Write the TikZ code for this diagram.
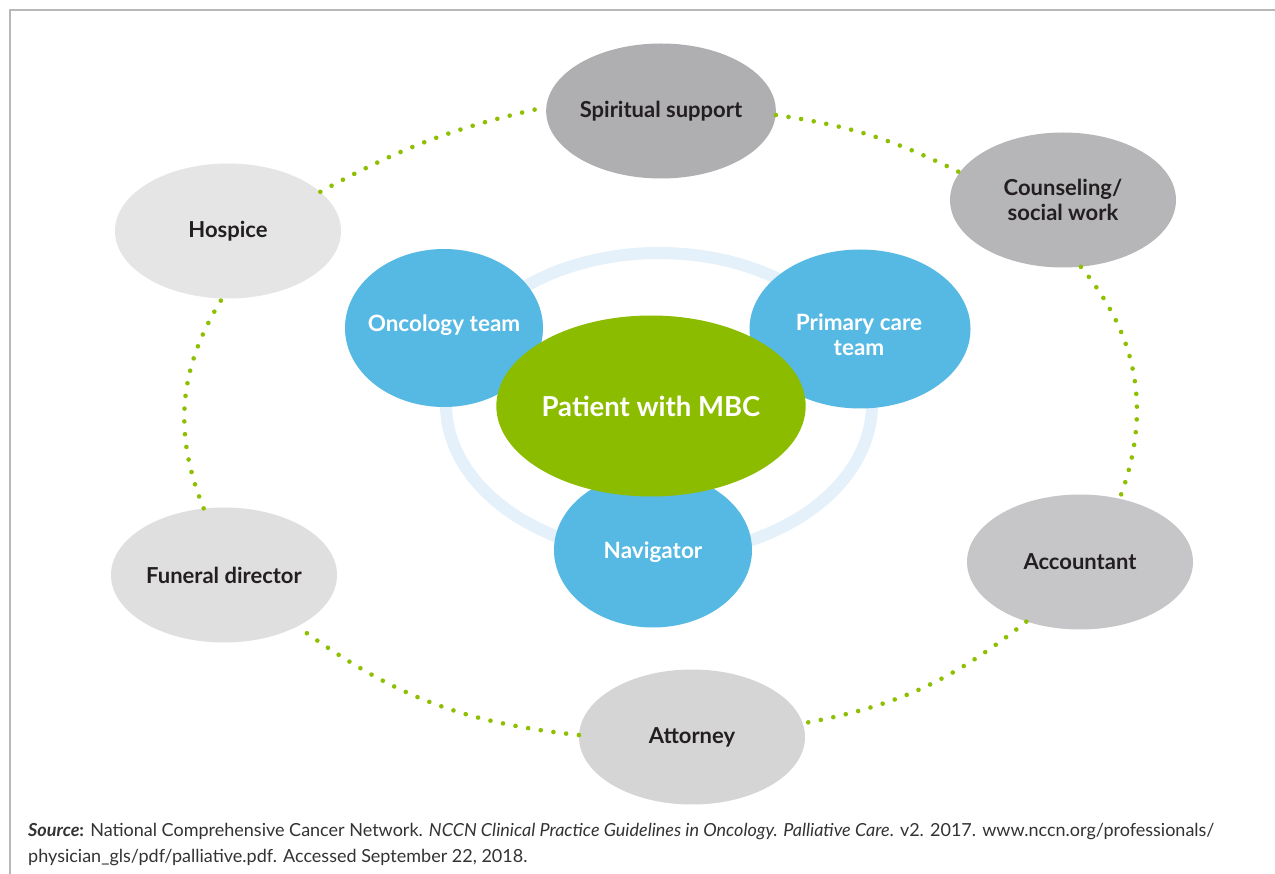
\documentclass[tikz,border=0pt]{standalone}
\usepackage{fontspec}
\setmainfont{Lato}
\newfontfamily\footfont{Lato}
\usetikzlibrary{shapes.geometric}
\definecolor{framec}{HTML}{B8B8B8}
\definecolor{bluec}{HTML}{56B9E3}
\definecolor{greenc}{HTML}{8CBC00}
\definecolor{ringc}{HTML}{E4F1FA}
\definecolor{dotc}{HTML}{8CC000}
\definecolor{txtc}{HTML}{231F20}
\definecolor{footc}{HTML}{333333}
\definecolor{g1}{HTML}{AFAEB1}
\definecolor{g2}{HTML}{B6B6B8}
\definecolor{g3}{HTML}{C6C6C8}
\definecolor{g4}{HTML}{D5D5D6}
\definecolor{g5}{HTML}{E0DFE0}
\definecolor{g6}{HTML}{E6E5E6}
\tikzset{
  outerbox/.style={ellipse, inner sep=0pt, minimum width=226pt, minimum height=135pt,
    text=txtc, font=\bfseries\fontsize{22}{24.5}\selectfont, align=center},
  bluebox/.style={ellipse, inner sep=0pt, fill=bluec},
  bluetext/.style={inner sep=0pt, text=white, font=\bfseries\fontsize{22.5}{25}\selectfont, align=center},
  dotline/.style={dotc, line width=4.6pt, line cap=round, dash pattern=on 0pt off 12.8pt},
  foot/.style={anchor=base west, inner sep=0pt, text=footc, font=\footfont\fontsize{18}{20}\selectfont}
}
\begin{document}
\begin{tikzpicture}[x=1pt,y=-1pt]
\useasboundingbox (0,0) rectangle (1275,874);
\fill[white] (0,0) rectangle (1275,874);
\draw[framec, line width=1.5pt] (10,874) -- (10,10) -- (1275,10);

% outer ring nodes
\node[outerbox, fill=g1] (spiritual) at (661,111) {Spiritual support};
\node[outerbox, fill=g2] (counsel) at (1063,200) {Counseling/\\social work};
\node[outerbox, fill=g3] (account) at (1080,562) {Accountant};
\node[outerbox, fill=g4] (attorney) at (692,737) {Attorney};
\node[outerbox, fill=g5] (funeral) at (224,575) {Funeral director};
\node[outerbox, fill=g6] (hospice) at (228,231) {Hospice};

% dotted connectors
\draw[dotline] (hospice.23) to[bend left=8] (spiritual.178);
\draw[dotline] (spiritual.358) to[bend left=9] (counsel.165);
\draw[dotline] (counsel.285) to[bend left=30] (account.58);
\draw[dotline] (account.228) to[bend left=14] (attorney.7);
\draw[dotline] (attorney.179) to[bend left=15] (funeral.325);
\draw[dotline] (funeral.107) to[bend left=27] (hospice.265);

% inner team
\node[ellipse, draw=ringc, line width=12pt, minimum width=426pt, minimum height=302pt, inner sep=0pt] (ring) at (659,404) {};
\node[bluebox, minimum width=198pt, minimum height=158pt] (oncology) at (444,328) {};
\node[bluetext] (oncologytxt) at (444,325) {Oncology team};
\node[bluebox, minimum width=221pt, minimum height=159pt] (primary) at (860,329) {};
\node[bluetext] (primarytxt) at (859,335) {Primary care\\team};
\node[bluebox, minimum width=198pt, minimum height=155pt] (navigator) at (653,550) {};
\node[bluetext] (navigatortxt) at (653,552) {Navigator};
\node[ellipse, inner sep=0pt, fill=greenc, text=white, minimum width=308pt, minimum height=181pt,
  font=\bfseries\fontsize{27.5}{30}\selectfont] (patient) at (651,406) {Patient with MBC};

% source
\node[foot] (src1) at (28,836) {\textbf{\textit{Source}}\textbf{:} National Comprehensive Cancer Network. \textit{NCCN Clinical Practice Guidelines in Oncology. Palliative Care}. v2. 2017. www.nccn.org/professionals/};
\node[foot] (src2) at (28,862) {physician\_gls/pdf/palliative.pdf. Accessed September 22, 2018.};
\end{tikzpicture}
\end{document}
